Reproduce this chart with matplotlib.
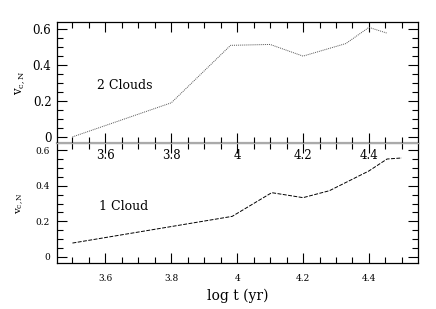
import matplotlib
matplotlib.use('Agg')
import matplotlib.pyplot as plt
from matplotlib.ticker import MultipleLocator

plt.rcParams['font.family'] = 'DejaVu Serif'
plt.rcParams['mathtext.fontset'] = 'dejavuserif'

# 2 Clouds (top panel)
logt_2 = [3.50, 3.80, 3.98, 4.10, 4.20, 4.33, 4.40, 4.455]
vcn_2 = [0.0, 0.19, 0.51, 0.515, 0.45, 0.52, 0.61, 0.578]

# 1 Cloud (bottom panel)
logt_1 = [3.50, 3.95, 3.985, 4.105, 4.20, 4.28, 4.40, 4.455, 4.50]
vcn_1 = [0.078, 0.217, 0.228, 0.361, 0.333, 0.372, 0.483, 0.55, 0.556]

xticks = [3.6, 3.8, 4.0, 4.2, 4.4]
xticklabels = ['3.6', '3.8', '4', '4.2', '4.4']
yticks = [0, 0.2, 0.4, 0.6]
yticklabels = ['0', '0.2', '0.4', '0.6']

fig = plt.figure(figsize=(4.36, 3.09), dpi=100)
ax2 = fig.add_axes([0.1307, 0.1489, 0.828, 0.3883])
ax1 = fig.add_axes([0.1307, 0.5372, 0.828, 0.3916])
ax1.patch.set_visible(False)

ax1.plot(logt_2, vcn_2, color='#555555', lw=0.7, ls=(0, (1, 1)))
ax2.plot(logt_1, vcn_1, color='black', lw=0.7, ls=(0, (4, 1.5)))

for ax in (ax1, ax2):
    ax.set_xlim(3.453, 4.549)
    ax.set_ylim(-0.034, 0.64)
    ax.set_xticks(xticks)
    ax.set_yticks(yticks)
    ax.set_yticklabels(yticklabels)
    ax.xaxis.set_minor_locator(MultipleLocator(0.05))
    ax.yaxis.set_minor_locator(MultipleLocator(0.05))
    ax.tick_params(which='both', direction='in', top=True, right=True, width=0.8)
    ax.tick_params(which='major', length=7)
    ax.tick_params(which='minor', length=4)
    for s in ax.spines.values():
        s.set_linewidth(0.9)

ax1.set_xticklabels(xticklabels)
ax2.set_xticklabels(xticklabels)
ax1.tick_params(labelsize=8.5, pad=4)
ax2.tick_params(labelsize=6.5, pad=5)
ax2.tick_params(axis='x', pad=8)
ax1.spines['bottom'].set_color('#aaaaaa')
ax2.spines['top'].set_color('#aaaaaa')
ax2.spines['top'].set_linewidth(1.6)

ax1.set_ylabel(r'v$_{\rm c,N}$', fontsize=8.5, labelpad=5)
ax2.set_ylabel(r'v$_{\rm c,N}$', fontsize=7.5, labelpad=8)
ax2.set_xlabel('log t (yr)', fontsize=10, labelpad=4)

ax1.text(3.575, 0.289, '2 Clouds', fontsize=9, va='center')
ax2.text(3.58, 0.283, '1 Cloud', fontsize=9, va='center')

fig.savefig('out.png', dpi=100)
